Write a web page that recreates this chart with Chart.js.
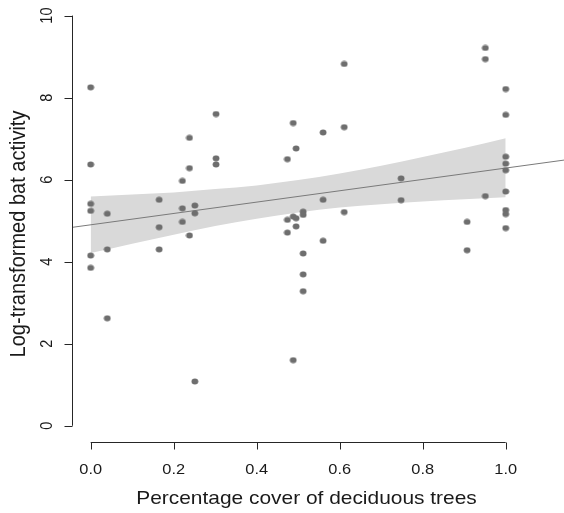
<!DOCTYPE html>
<html>
<head>
<meta charset="utf-8">
<script src="https://cdn.jsdelivr.net/npm/chart.js@4.4.1/dist/chart.umd.min.js"></script>
<style>
  html, body { margin: 0; padding: 0; background: #fff; overflow: hidden; }
  #bat-chart { display: block; }
</style>
</head>
<body>
<canvas id="bat-chart" width="564" height="513"></canvas>
<script>
// Observed sites: deciduous cover (x) and log bat activity (y)
const pointX = [
    0, 0, 0, 0, 0, 0,
    0.040, 0.040, 0.040,
    0.165, 0.165, 0.165,
    0.221, 0.221, 0.221,
    0.238, 0.238, 0.238,
    0.251, 0.251, 0.251,
    0.302, 0.302, 0.302,
    0.474, 0.474, 0.474,
    0.488, 0.488, 0.488,
    0.495, 0.495, 0.495,
    0.512, 0.512, 0.512, 0.512, 0.512,
    0.560, 0.560, 0.560,
    0.611, 0.611, 0.611,
    0.748, 0.748,
    0.907, 0.907,
    0.951, 0.951, 0.951,
    1, 1, 1, 1, 1, 1, 1, 1, 1,
];
const pointY = [
    8.25, 6.37, 5.41, 5.24, 4.15, 3.85,
    5.17, 4.30, 2.62,
    5.51, 4.84, 4.30,
    5.97, 5.30, 4.97,
    7.02, 6.28, 4.64,
    5.37, 5.18, 1.08,
    7.60, 6.52, 6.37,
    6.50, 5.02, 4.71,
    7.38, 5.10, 1.60,
    6.76, 5.06, 4.86,
    5.22, 5.14, 4.20, 3.69, 3.28,
    7.15, 5.51, 4.51,
    8.82, 7.28, 5.21,
    6.03, 5.50,
    4.97, 4.28,
    9.21, 8.94, 5.60,
    8.21, 7.58, 6.56, 6.39, 6.23, 5.71, 5.26, 5.16, 4.82,
];

// Fitted line (ends past the plot edges, clipped by the chart area)
const fitX = [-0.05, 1.15];
const fitY = [4.83, 6.49];

// Confidence band
const bandX = [0, 0.1, 0.2, 0.3, 0.4, 0.5, 0.6, 0.7, 0.8, 0.9, 1.0];
const bandUpper = [5.59, 5.64, 5.69, 5.77, 5.86, 5.99, 6.15, 6.34, 6.55, 6.77, 7.01];
const bandLower = [4.21, 4.44, 4.66, 4.87, 5.05, 5.20, 5.32, 5.40, 5.47, 5.52, 5.57];

// Axis ticks
const xTicks = [0, 0.2, 0.4, 0.6, 0.8, 1.0];
const xTickLabels = ['0.0', '0.2', '0.4', '0.6', '0.8', '1.0'];
const yTicks = [0, 2, 4, 6, 8, 10];
const yTickLabels = ['0', '2', '4', '6', '8', '10'];

const xTitle = 'Percentage cover of deciduous trees';
const yTitle = 'Log-transformed bat activity';

const FONT = '"Liberation Sans", Arial, sans-serif';
const STRETCH = 1.13; // the picture is a bit wider than tall

const toXY = (xs, ys) => xs.map((x, i) => ({ x, y: ys[i] }));

// slightly wide dot, like the reference markers
function makeDot() {
    const c = document.createElement('canvas');
    c.width = 8;
    c.height = 7;
    const g = c.getContext('2d');
    g.fillStyle = '#6e6e6e';
    g.beginPath();
    g.ellipse(4, 3.5, 3.4, 3.0, 0, 0, Math.PI * 2);
    g.fill();
    return c;
}

function stretchedText(ctx, text, px, py, size, rot, align, baseline) {
    ctx.save();
    ctx.translate(px, py);
    ctx.scale(STRETCH, 1);
    ctx.rotate(rot);
    ctx.font = size + 'px ' + FONT;
    ctx.textAlign = align;
    ctx.textBaseline = baseline;
    ctx.fillText(text, 0, 0);
    ctx.restore();
}

// R-style axes: line only between first and last tick, outward ticks
const rAxes = {
    id: 'rAxes',
    afterDraw(chart) {
        const { ctx, chartArea, scales: { x, y } } = chart;
        const ax = chartArea.left + 0.5;
        const ay = chartArea.bottom - 0.5;
        ctx.save();
        ctx.strokeStyle = '#262626';
        ctx.fillStyle = '#1a1a1a';
        ctx.lineWidth = 1;

        // x axis
        ctx.beginPath();
        ctx.moveTo(x.getPixelForValue(xTicks[0]), ay);
        ctx.lineTo(x.getPixelForValue(xTicks[xTicks.length - 1]), ay);
        xTicks.forEach(v => {
            const px = Math.round(x.getPixelForValue(v)) + 0.5;
            ctx.moveTo(px, ay);
            ctx.lineTo(px, ay + 7);
        });
        ctx.stroke();
        xTicks.forEach((v, i) => {
            stretchedText(ctx, xTickLabels[i], x.getPixelForValue(v), 474, 14.5, 0, 'center', 'alphabetic');
        });

        // y axis
        ctx.beginPath();
        ctx.moveTo(ax, y.getPixelForValue(yTicks[0]));
        ctx.lineTo(ax, y.getPixelForValue(yTicks[yTicks.length - 1]));
        yTicks.forEach(v => {
            const py = Math.round(y.getPixelForValue(v)) + 0.5;
            ctx.moveTo(ax, py);
            ctx.lineTo(ax - 8, py);
        });
        ctx.stroke();
        yTicks.forEach((v, i) => {
            stretchedText(ctx, yTickLabels[i], 52, y.getPixelForValue(v), 14.5, -Math.PI / 2, 'center', 'alphabetic');
        });

        // axis titles
        stretchedText(ctx, xTitle, 306.5, 504, 18.5, 0, 'center', 'alphabetic');
        stretchedText(ctx, yTitle, 25, 234, 20, -Math.PI / 2, 'center', 'alphabetic');
        ctx.restore();
    },
};

const ctx = document.getElementById('bat-chart');
new Chart(ctx, {
    type: 'scatter',
    data: {
        datasets: [
            {
                label: 'Sites',
                data: toXY(pointX, pointY),
                pointStyle: makeDot(),
                pointRadius: 3.5,
                order: 0,
            },
            {
                label: 'Fit',
                data: toXY(fitX, fitY),
                showLine: true,
                borderColor: '#7a7a7a',
                borderWidth: 1,
                pointRadius: 0,
                order: 1,
            },
            {
                label: 'Upper',
                data: toXY(bandX, bandUpper),
                showLine: true,
                borderWidth: 0,
                borderColor: 'rgba(0,0,0,0)',
                backgroundColor: '#d9d9d9',
                pointRadius: 0,
                cubicInterpolationMode: 'monotone',
                fill: '+1',
                order: 2,
            },
            {
                label: 'Lower',
                data: toXY(bandX, bandLower),
                showLine: true,
                borderWidth: 0,
                borderColor: 'rgba(0,0,0,0)',
                pointRadius: 0,
                cubicInterpolationMode: 'monotone',
                fill: false,
                order: 3,
            },
        ],
    },
    options: {
        responsive: false,
        animation: false,
        events: [],
        layout: {
            autoPadding: false,
            padding: { left: 72, right: 0, top: 0, bottom: 70 },
        },
        scales: {
            x: { type: 'linear', display: false, min: -0.045, max: 1.1405 },
            y: { type: 'linear', display: false, min: -0.42, max: 10.38 },
        },
        plugins: {
            legend: { display: false },
            tooltip: { enabled: false },
        },
    },
    plugins: [rAxes],
});
</script>
</body>
</html>
